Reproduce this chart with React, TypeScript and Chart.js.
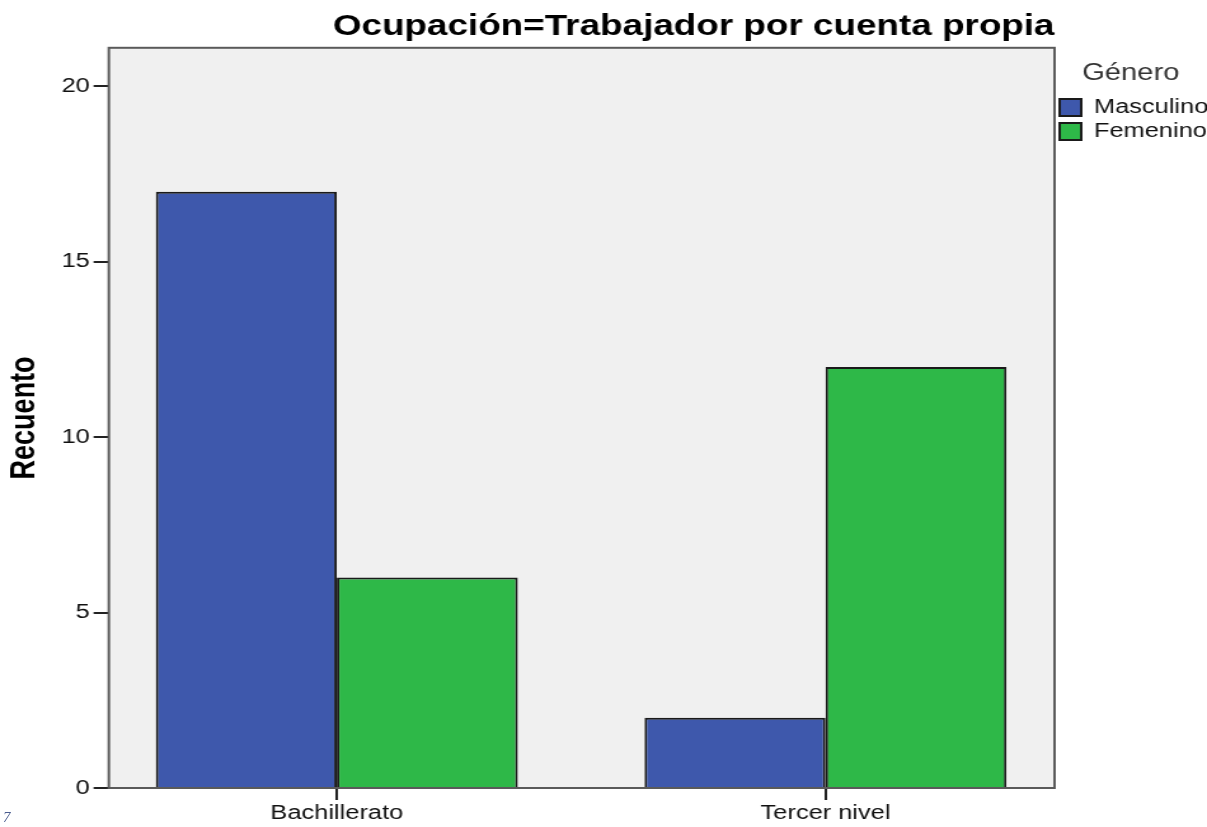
import React, { useEffect, useRef } from "react";
import { Chart, registerables } from "chart.js";

Chart.register(...registerables);

const chartTitle = "Ocupación=Trabajador por cuenta propia";
const categories = ["Bachillerato", "Tercer nivel"];
const seriesNames = ["Masculino", "Femenino"];
const masculino = [17, 2];
const femenino = [6, 12];
const yTicks = [0, 5, 10, 15, 20];
const legendTitle = "Género";
const yTitle = "Recuento";

const FONT = "'Liberation Sans', Arial, sans-serif";
const CANVAS_W = 950;
const DISPLAY_W = 1207;
const H = 827;

const framePlugin = {
  id: "frame",
  beforeDatasetsDraw(chart: any) {
    const { ctx, chartArea: a } = chart;
    ctx.save();
    ctx.fillStyle = "#f0f0f0";
    ctx.fillRect(a.left, a.top, a.right - a.left, a.bottom - a.top);
    ctx.restore();
  },
  afterDraw(chart: any) {
    const { ctx, chartArea: a } = chart;
    ctx.save();
    ctx.strokeStyle = "#5a5a5a";
    ctx.lineWidth = 2;
    ctx.strokeRect(a.left, a.top, a.right - a.left, a.bottom - a.top);
    ctx.restore();
  },
};

export default function App() {
  const ref = useRef<HTMLCanvasElement | null>(null);

  useEffect(() => {
    document.body.style.margin = "0";
    document.body.style.overflow = "hidden";
    const canvas = ref.current!;
    const chart = new Chart(canvas, {
      type: "bar",
      data: {
        datasets: [
          {
            label: seriesNames[0],
            data: categories.map((_, i) => ({ x: i, y: masculino[i] })),
            backgroundColor: "#3e58ac",
            borderColor: "#1a1a1a",
            borderWidth: 2,
          },
          {
            label: seriesNames[1],
            data: categories.map((_, i) => ({ x: i, y: femenino[i] })),
            backgroundColor: "#2eb848",
            borderColor: "#1a1a1a",
            borderWidth: 2,
          },
        ],
      },
      options: {
        animation: false,
        responsive: false,
        devicePixelRatio: 1,
        layout: { padding: { left: 0, right: 0, top: 0, bottom: 0 } },
        datasets: {
          bar: { categoryPercentage: 0.7406, barPercentage: 1 },
        },
        scales: {
          x: {
            type: "linear",
            offset: false,
            min: -0.4665,
            max: 1.4686,
            afterBuildTicks: (scale: any) => {
              scale.ticks = categories.map((_, i) => ({ value: i }));
            },
            ticks: {
              callback: (v: any) => categories[Math.round(Number(v))] ?? "",
              font: { family: FONT, size: 20 },
              color: "#111",
              padding: 1.5,
              maxRotation: 0,
              autoSkip: false,
            },
            grid: {
              offset: false,
              drawOnChartArea: false,
              drawTicks: true,
              tickLength: 12,
              color: "#222",
              lineWidth: 2,
            },
            border: { display: false },
          },
          y: {
            min: 0,
            max: 21.1,
            afterBuildTicks: (scale: any) => {
              scale.ticks = yTicks.map((v) => ({ value: v }));
            },
            ticks: {
              font: { family: FONT, size: 20 },
              color: "#111",
              padding: 3,
            },
            grid: {
              drawOnChartArea: false,
              drawTicks: true,
              tickLength: 12,
              color: "#222",
              lineWidth: 2,
            },
            border: { display: false },
            title: {
              display: true,
              text: yTitle,
              font: { family: FONT, size: 27, weight: "bold" },
              color: "#000",
              padding: { top: 3, bottom: 10 },
            },
          },
        },
        plugins: {
          title: {
            display: true,
            text: chartTitle,
            align: "end",
            fullSize: false,
            font: { family: FONT, size: 29, weight: "bold" },
            color: "#000",
            padding: { top: 10, bottom: 3 },
          },
          legend: {
            display: true,
            position: "right",
            align: "start",
            maxWidth: 120,
            title: {
              display: true,
              text: legendTitle,
              font: { family: FONT, size: 23 },
              color: "#333",
              padding: { top: 62, bottom: 4 },
            },
            labels: {
              boxWidth: 17,
              boxHeight: 17,
              padding: 4,
              font: { family: FONT, size: 20 },
              color: "#111",
            },
          },
          tooltip: { enabled: false },
        },
      },
      plugins: [framePlugin],
    } as any);
    return () => chart.destroy();
  }, []);

  return (
    <div style={{ position: "relative", width: DISPLAY_W, height: H, overflow: "hidden", background: "#fff" }}>
      <canvas
        ref={ref}
        width={CANVAS_W}
        height={H}
        style={{ width: DISPLAY_W + "px", height: H + "px", display: "block" }}
      />
      <span
        style={{
          position: "absolute",
          left: 3,
          top: 809,
          fontFamily: "'Liberation Serif', serif",
          fontStyle: "italic",
          fontSize: 15,
          lineHeight: "17px",
          color: "#4b5d8f",
        }}
      >
        7
      </span>
    </div>
  );
}
